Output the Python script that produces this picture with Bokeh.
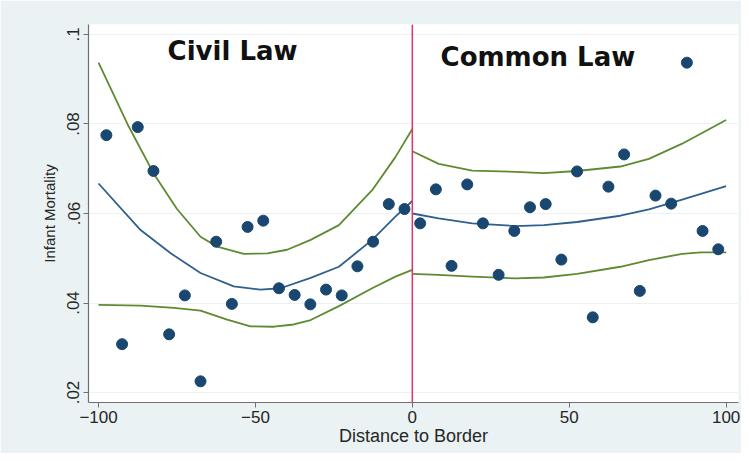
from bokeh.plotting import figure
from bokeh.models import Range1d, Span, Label, FixedTicker
from bokeh.embed import file_html
from bokeh.resources import INLINE

# ---- data ----
civil_x = [-97.5, -92.5, -87.5, -82.5, -77.5, -72.5, -67.5, -62.5, -57.5, -52.5,
           -47.5, -42.5, -37.5, -32.5, -27.5, -22.5, -17.5, -12.5, -7.5, -2.5]
civil_y = [0.0775, 0.0308, 0.0793, 0.0695, 0.0330, 0.0417, 0.0225, 0.0537, 0.0398, 0.0570,
           0.0584, 0.0433, 0.0418, 0.0397, 0.0430, 0.0417, 0.0482, 0.0537, 0.0621, 0.0610]
common_x = [2.5, 7.5, 12.5, 17.5, 22.5, 27.5, 32.5, 37.5, 42.5, 47.5,
            52.5, 57.5, 62.5, 67.5, 72.5, 77.5, 82.5, 87.5, 92.5, 97.5]
common_y = [0.0578, 0.0654, 0.0483, 0.0665, 0.0578, 0.0463, 0.0561, 0.0614, 0.0621, 0.0497,
            0.0694, 0.0368, 0.0660, 0.0732, 0.0427, 0.0640, 0.0622, 0.0937, 0.0561, 0.0520]

civil_fit_x = [-100, -86.6, -77, -67.5, -56.9, -48.4, -42, -32.4, -23.4, -12.8, -5.4, 0]
civil_fit_y = [0.0667, 0.0563, 0.0511, 0.0467, 0.0437, 0.0430, 0.0433, 0.0456, 0.0481, 0.0541, 0.0593, 0.0628]
civil_hi_x = [-100, -90.8, -82.4, -75, -67.5, -62.2, -53.7, -46.2, -39.9, -32.4, -23.4, -12.8, -5.4, 0]
civil_hi_y = [0.0937, 0.0800, 0.0689, 0.0610, 0.0548, 0.0526, 0.0510, 0.0511, 0.0519, 0.0541, 0.0574, 0.0652, 0.0726, 0.0789]
civil_lo_x = [-100, -86.6, -76, -67.5, -59, -51.6, -44.1, -37.8, -32.4, -23.4, -12.8, -5.4, 0]
civil_lo_y = [0.0396, 0.0394, 0.0389, 0.0383, 0.0363, 0.0348, 0.0347, 0.0352, 0.0362, 0.0393, 0.0433, 0.0459, 0.0474]

common_fit_x = [0, 8.4, 19.1, 32.9, 41.9, 52.5, 66.3, 75.4, 86, 100]
common_fit_y = [0.0600, 0.0589, 0.0578, 0.0572, 0.0574, 0.0581, 0.0595, 0.0609, 0.0631, 0.0661]
common_hi_x = [0, 8.4, 19.1, 32.9, 41.9, 52.5, 66.3, 75.4, 86, 100]
common_hi_y = [0.0739, 0.0711, 0.0696, 0.0693, 0.0690, 0.0695, 0.0705, 0.0722, 0.0756, 0.0809]
common_lo_x = [0, 8.4, 19.1, 32.9, 41.9, 52.5, 66.3, 75.4, 86, 92, 100]
common_lo_y = [0.0465, 0.0463, 0.0459, 0.0455, 0.0457, 0.0465, 0.0481, 0.0496, 0.0510, 0.0513, 0.0513]

cutoff = 0
x_ticks = [-100, -50, 0, 50, 100]
y_ticks = [0.02, 0.04, 0.06, 0.08, 0.1]
y_tick_labels = [".02", ".04", ".06", ".08", ".1"]

# ---- styling ----
BG = "#eaf2f3"
NAVY = "#1a476f"
BLUE = "#2e5f8e"
GREEN = "#5f8a32"
RED = "#e2336c"
FONT = "Liberation Sans"

p = figure(width=741, height=453, output_backend="svg", toolbar_location=None,
           x_range=Range1d(-103.2, 103.95), y_range=Range1d(0.01777, 0.10223),
           min_border_left=88, min_border_right=3, min_border_top=24, min_border_bottom=51)
p.border_fill_color = BG
p.background_fill_color = "white"
p.outline_line_color = None

p.xgrid.grid_line_color = None
p.ygrid.grid_line_color = BG
p.ygrid.grid_line_width = 1.2

p.xaxis.ticker = FixedTicker(ticks=x_ticks)
p.yaxis.ticker = FixedTicker(ticks=y_ticks)
p.yaxis.major_label_overrides = dict(zip(y_ticks, y_tick_labels))
p.yaxis.major_label_orientation = "vertical"

for ax in (p.xaxis[0], p.yaxis[0]):
    ax.axis_line_color = "#707070"
    ax.axis_line_width = 1.2
    ax.major_tick_line_color = "#707070"
    ax.major_tick_in = 0
    ax.major_tick_out = 5
    ax.minor_tick_line_color = None
    ax.major_label_text_font = FONT
    ax.major_label_text_font_size = "17px"
    ax.major_label_text_color = "#262626"
    ax.axis_label_text_font = FONT
    ax.axis_label_text_font_style = "normal"
    ax.axis_label_text_color = "#262626"

p.xaxis.axis_label = "Distance to Border"
p.xaxis.axis_label_text_font_size = "18px"
p.xaxis.major_label_standoff = 3
p.xaxis.axis_label_standoff = 0
p.yaxis.axis_label = "Infant Mortality"
p.yaxis.axis_label_text_font_size = "15px"
p.yaxis.major_label_standoff = 4
p.yaxis.axis_label_standoff = 7

# confidence bands and fits
for xs, ys in ((civil_hi_x, civil_hi_y), (civil_lo_x, civil_lo_y),
               (common_hi_x, common_hi_y), (common_lo_x, common_lo_y)):
    p.line(xs, ys, line_color=GREEN, line_width=1.8, line_join="round")
for xs, ys in ((civil_fit_x, civil_fit_y), (common_fit_x, common_fit_y)):
    p.line(xs, ys, line_color=BLUE, line_width=1.8, line_join="round")

p.scatter(civil_x, civil_y, size=11, color=NAVY, line_color=NAVY)
p.scatter(common_x, common_y, size=11, color=NAVY, line_color=NAVY)

p.add_layout(Span(location=cutoff, dimension="height", line_color=RED, line_width=1.5))

p.add_layout(Label(x=-78, y=0.0964, text="Civil Law", text_font="DejaVu Sans",
                   text_font_style="bold", text_font_size="26px", text_baseline="middle",
                   text_color="#111111"))
p.add_layout(Label(x=9, y=0.0949, text="Common Law", text_font="DejaVu Sans",
                   text_font_style="bold", text_font_size="26px", text_baseline="middle",
                   text_color="#111111"))

open("out.html", "w").write(file_html(p, INLINE))
